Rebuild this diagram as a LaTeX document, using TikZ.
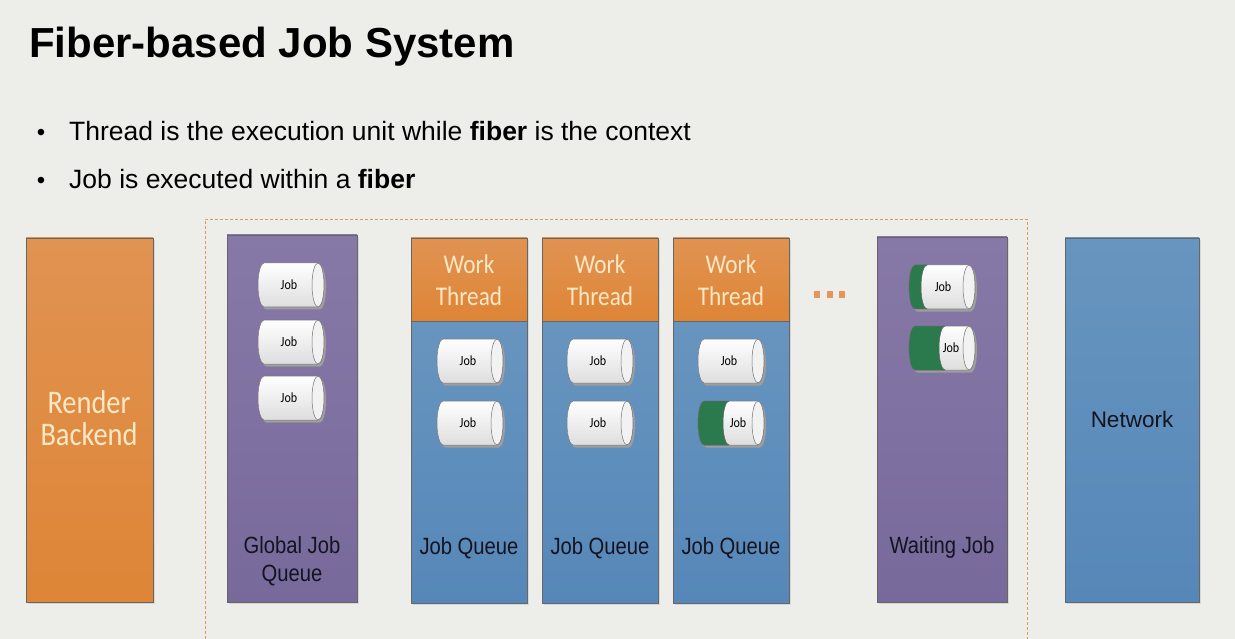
\documentclass[tikz,border=0pt]{standalone}
\usepackage{fontspec}
\setmainfont{Liberation Sans}
\newfontfamily\narrowsans[FakeStretch=0.86]{Liberation Sans}
\newfontfamily\narrowcal[FakeStretch=0.86]{Carlito}
\definecolor{bg}{HTML}{EDEDEA}
\definecolor{orangeT}{HTML}{E19352}
\definecolor{orangeB}{HTML}{DE8536}
\definecolor{purpT}{HTML}{8679A7}
\definecolor{purpB}{HTML}{78699B}
\definecolor{blueT}{HTML}{6895BF}
\definecolor{blueB}{HTML}{5587B8}
\definecolor{cream}{HTML}{FCE8C4}
\definecolor{jobgreen}{HTML}{2B7A4E}
\definecolor{dashc}{HTML}{DA9A5C}
\definecolor{dotc}{HTML}{E8955A}
\definecolor{darktext}{HTML}{141420}
\tikzset{
  colbox/.style={draw=black!60, line width=0.6pt},
  colshadow/.style={fill=black!16},
  orangebox/.style={colbox, top color=orangeT, bottom color=orangeB},
  purplebox/.style={colbox, top color=purpT, bottom color=purpB},
  bluebox/.style={colbox, top color=blueT, bottom color=blueB},
  creamtext/.style={text=cream, align=center, inner sep=0pt},
  darklabel/.style={text=darktext, align=center, inner sep=0pt, font=\narrowsans\fontsize{23.5}{28}\selectfont},
  jobshadow/.style={fill=black!38},
  jobbody/.style={draw=black!55, line width=0.5pt, top color=white, bottom color=black!13},
  jobend/.style={draw=black!55, line width=0.5pt, fill=black!5},
  jobgreenfill/.style={draw=black!60, line width=0.5pt, fill=jobgreen},
  jobtext/.style={text=black, inner sep=0pt, font=\narrowcal\fontsize{14}{16}\selectfont},
  dotbox/.style={fill=dotc, inner sep=0pt, minimum width=6pt, minimum height=7pt},
  dashframe/.style={draw=dashc, line width=0.8pt, dash pattern=on 3pt off 2pt},
}
% #1 name, #2 cx, #3 cy, #4 green width, #5 text x shift
\newcommand\jobcyl[5]{%
  \fill[jobshadow] ({#2-27+2},{#3-22+2.5}) -- ++(54,0)
     arc[start angle=270,end angle=450,x radius=6,y radius=22] -- ++(-54,0)
     arc[start angle=90,end angle=270,x radius=6,y radius=22] -- cycle;
  \path[jobbody] ({#2-27},{#3-22}) -- ++(54,0)
     arc[start angle=270,end angle=450,x radius=6,y radius=22] -- ++(-54,0)
     arc[start angle=90,end angle=270,x radius=6,y radius=22] -- cycle;
  \ifdim #4pt>0pt
    \filldraw[jobgreenfill] ({#2-27},{#3-22})
       arc[start angle=270,end angle=90,x radius=6,y radius=22] -- ++(#4,0)
       arc[start angle=90,end angle=270,x radius=6,y radius=22] -- cycle;
  \fi
  \filldraw[jobend] ({#2+27},{#3}) ellipse[x radius=6,y radius=22];
  \node[jobtext] (#1) at ({#2+#5},{#3}) {Job};
}
\begin{document}
\begin{tikzpicture}[x=1pt,y=-1pt]
\useasboundingbox (0,0) rectangle (1235,639);
\fill[bg] (0,0) rectangle (1235,639);

% title and bullets
\node[anchor=base west, inner sep=0pt, font=\bfseries\fontsize{42}{50}\selectfont] (title) at (29,58) {Fiber-based Job System};
\node[anchor=base, inner sep=0pt, font=\fontsize{24}{30}\selectfont] (d1) at (41,141) {•};
\node[anchor=base west, inner sep=0pt, font=\fontsize{26.5}{30}\selectfont] (b1) at (69,141) {Thread is the execution unit while \textbf{fiber} is the context};
\node[anchor=base, inner sep=0pt, font=\fontsize{24}{30}\selectfont] (d2) at (41,189) {•};
\node[anchor=base west, inner sep=0pt, font=\fontsize{26.5}{30}\selectfont] (b2) at (69,189) {Job is executed within a \textbf{fiber}};

% dashed frame
\draw[dashframe] (205,639) -- (205,219) -- (1027,219) -- (1027,639);

% Render Backend
\fill[colshadow] (28,240) rectangle (155,604);
\path[orangebox] (26,238) rectangle (153,602);
\node[creamtext, font=\narrowcal\fontsize{33}{32}\selectfont] (render) at (89,418) {Render\\Backend};

% Global Job Queue
\fill[colshadow] (229,237) rectangle (359,604);
\path[purplebox] (227,235) rectangle (357,602);
\node[darklabel] (gjq) at (292,561) {Global Job\\Queue};
\jobcyl{g1}{291}{285}{0}{-2}
\jobcyl{g2}{291}{342}{0}{-2}
\jobcyl{g3}{291}{398}{0}{-2}

% Work threads
\foreach \xl/\nm in {411/t1, 542/t2, 673/t3}{
  \fill[colshadow] (\xl+2,240) rectangle (\xl+118,605);
  \path[bluebox] (\xl,321) rectangle (\xl+116,603);
  \path[orangebox] (\xl,238) rectangle (\xl+116,321);
  \node[creamtext, font=\narrowcal\fontsize{27}{32}\selectfont] (\nm head) at (\xl+58,280) {Work\\Thread};
  \node[darklabel] (\nm q) at (\xl+58,548) {Job Queue};
}
\jobcyl{t1a}{470}{361}{0}{-2}
\jobcyl{t1b}{470}{423}{0}{-2}
\jobcyl{t2a}{600}{361}{0}{-2}
\jobcyl{t2b}{600}{423}{0}{-2}
\jobcyl{t3a}{731}{361}{0}{-2}
\jobcyl{t3b}{731}{423}{25}{7}

% dots
\node[dotbox] (dot1) at (817,295) {};
\node[dotbox] (dot2) at (830,295) {};
\node[dotbox] (dot3) at (842,295) {};

% Waiting Job
\fill[colshadow] (879,239) rectangle (1009,604);
\path[purplebox] (877,237) rectangle (1007,602);
\node[darklabel] (wait) at (942,547) {Waiting Job};
\jobcyl{w1}{942}{287}{12}{1}
\jobcyl{w2}{942}{348}{30}{9}

% Network
\fill[colshadow] (1067,240) rectangle (1201,604);
\path[bluebox] (1065,238) rectangle (1199,602);
\node[darklabel, font=\fontsize{22.5}{28}\selectfont] (net) at (1132,419) {Network};
\end{tikzpicture}
\end{document}
